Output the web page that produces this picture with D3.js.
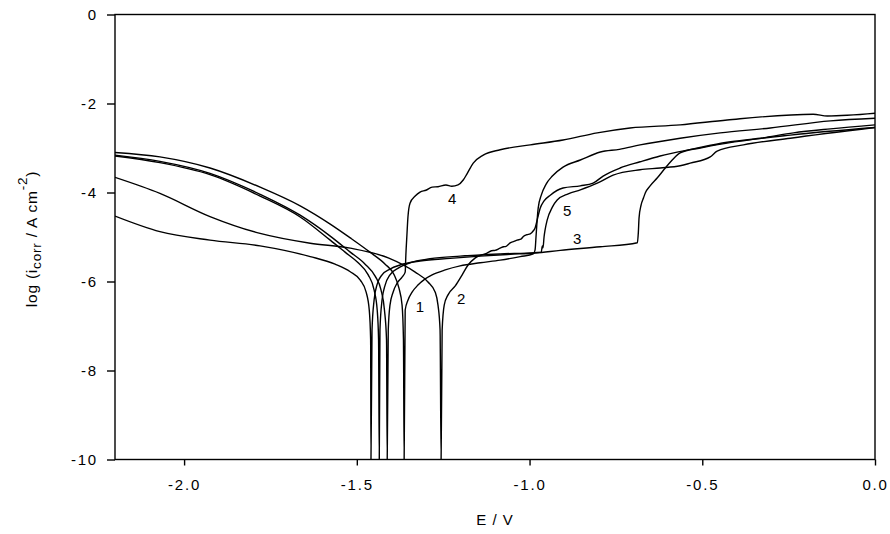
<!DOCTYPE html>
<html><head><meta charset="utf-8">
<script src="https://cdn.jsdelivr.net/npm/d3@7"></script>
<style>
body{margin:0;background:#fff}
svg{display:block}
text{font-family:"Liberation Sans",Arial,sans-serif;fill:#000}
</style>
</head><body><svg id="chart" width="890" height="534"></svg>
<script>
// ---- data (E / V, log i) ----
const xTicks = [-2.0, -1.5, -1.0, -0.5, 0.0];
const yTicks = [0, -2, -4, -6, -8, -10];

const curve1 = [[-2.200,-3.10],[-2.070,-3.20],[-1.925,-3.45],[-1.780,-3.88],[-1.664,-4.30],[-1.577,-4.71],[-1.519,-5.02],[-1.462,-5.34],[-1.418,-5.61],[-1.392,-5.85],[-1.378,-6.15],[-1.369,-6.53],[-1.365,-7.31],[-1.363,-10],
 [-1.360,-6.64],[-1.352,-6.42],[-1.340,-6.24],[-1.323,-6.08],[-1.302,-5.94],[-1.282,-5.85],[-1.244,-5.74],[-1.201,-5.65],[-1.143,-5.58],[-1.085,-5.52],[-1.027,-5.44],[-0.989,-5.38],[-0.984,-5.29],[-0.981,-4.96],[-0.978,-4.62],[-0.975,-4.35],[-0.966,-4.06],[-0.952,-3.81],[-0.934,-3.63],[-0.903,-3.43],[-0.853,-3.27],[-0.795,-3.09],[-0.740,-3.03],[-0.680,-2.93],[-0.564,-2.78],[-0.448,-2.66],[-0.303,-2.55],[-0.129,-2.39],[0.000,-2.33]];

const curve2 = [[-2.200,-3.66],[-2.070,-4.02],[-1.925,-4.54],[-1.780,-4.92],[-1.635,-5.14],[-1.519,-5.25],[-1.409,-5.47],[-1.331,-5.79],[-1.294,-6.01],[-1.273,-6.24],[-1.265,-6.53],[-1.259,-7.09],[-1.256,-10],
 [-1.253,-7.09],[-1.247,-6.53],[-1.236,-6.30],[-1.215,-6.10],[-1.195,-5.85],[-1.178,-5.63],[-1.157,-5.47],[-1.123,-5.36],[-1.110,-5.31],[-1.100,-5.30],[-1.085,-5.25],[-1.075,-5.22],[-1.068,-5.21],[-1.056,-5.13],[-1.045,-5.10],[-1.036,-5.07],[-1.025,-5.05],[-1.018,-4.99],[-1.008,-4.95],[-0.998,-4.93],[-0.989,-4.86],[-0.984,-4.80],[-0.978,-4.62],[-0.969,-4.35],[-0.958,-4.19],[-0.940,-4.06],[-0.903,-3.90],[-0.853,-3.85],[-0.816,-3.79],[-0.787,-3.63],[-0.738,-3.45],[-0.680,-3.31],[-0.622,-3.18],[-0.526,-3.02],[-0.428,-2.87],[-0.332,-2.78],[-0.236,-2.66],[-0.129,-2.57],[0.000,-2.48]];

const curve3 = [[-2.200,-4.53],[-2.070,-4.88],[-1.925,-5.07],[-1.780,-5.20],[-1.635,-5.44],[-1.563,-5.61],[-1.519,-5.78],[-1.490,-5.97],[-1.473,-6.24],[-1.464,-6.64],[-1.460,-7.31],[-1.459,-10],
 [-1.456,-7.09],[-1.450,-6.42],[-1.441,-6.06],[-1.427,-5.85],[-1.404,-5.72],[-1.375,-5.63],[-1.317,-5.54],[-1.230,-5.48],[-1.143,-5.43],[-1.056,-5.39],[-0.984,-5.36],[-0.911,-5.30],[-0.795,-5.22],[-0.688,-5.13],[-0.685,-4.89],[-0.683,-4.57],[-0.677,-4.28],[-0.670,-4.12],[-0.665,-4.01],[-0.651,-3.85],[-0.630,-3.67],[-0.607,-3.45],[-0.587,-3.27],[-0.564,-3.11],[-0.506,-3.00],[-0.428,-2.89],[-0.245,-2.71],[0.000,-2.54]];

const curve4 = [[-2.200,-3.16],[-2.070,-3.30],[-1.925,-3.57],[-1.780,-4.04],[-1.664,-4.51],[-1.577,-4.98],[-1.519,-5.34],[-1.476,-5.61],[-1.447,-5.88],[-1.430,-6.19],[-1.420,-6.64],[-1.414,-7.31],[-1.412,-10],
 [-1.409,-7.09],[-1.404,-6.53],[-1.395,-6.24],[-1.383,-6.03],[-1.369,-5.90],[-1.360,-5.79],[-1.358,-5.40],[-1.355,-4.96],[-1.352,-4.55],[-1.346,-4.24],[-1.331,-4.08],[-1.317,-3.99],[-1.300,-3.95],[-1.282,-3.88],[-1.265,-3.87],[-1.242,-3.83],[-1.225,-3.86],[-1.207,-3.83],[-1.192,-3.72],[-1.181,-3.58],[-1.163,-3.34],[-1.134,-3.16],[-1.085,-3.04],[-0.998,-2.93],[-0.903,-2.82],[-0.804,-2.66],[-0.709,-2.55],[-0.564,-2.48],[-0.428,-2.37],[-0.179,-2.24],[-0.138,-2.28],[0.000,-2.22]];

const curve5 = [[-2.200,-3.18],[-2.070,-3.33],[-1.925,-3.60],[-1.780,-4.08],[-1.664,-4.55],[-1.577,-5.07],[-1.534,-5.34],[-1.496,-5.58],[-1.467,-5.85],[-1.450,-6.19],[-1.441,-6.64],[-1.437,-7.31],[-1.435,-10],
 [-1.433,-7.09],[-1.427,-6.42],[-1.418,-6.08],[-1.404,-5.85],[-1.380,-5.70],[-1.346,-5.58],[-1.288,-5.49],[-1.201,-5.43],[-1.085,-5.38],[-0.984,-5.35],[-0.966,-5.34],[-0.963,-5.20],[-0.961,-5.24],[-0.958,-5.00],[-0.955,-4.84],[-0.949,-4.62],[-0.934,-4.33],[-0.920,-4.17],[-0.888,-4.03],[-0.853,-3.94],[-0.804,-3.79],[-0.758,-3.61],[-0.680,-3.49],[-0.622,-3.45],[-0.564,-3.40],[-0.535,-3.34],[-0.477,-3.20],[-0.457,-3.07],[-0.381,-2.93],[-0.245,-2.78],[0.000,-2.54]];

const curveNames = ["1", "2", "3", "4", "5"];
const labelE = [-1.317, -1.198, -0.862, -1.224, -0.891];
const labelLog = [-6.57, -6.39, -5.04, -4.15, -4.42];

// ---- layout ----
const svg = d3.select("#chart");
const L = 115, R = 875, T = 14.5, B = 459.5;
const x = d3.scaleLinear().domain([-2.2, 0]).range([L, R]);
const y = d3.scaleLinear().domain([0, -10]).range([T, B]);

svg.append("defs").append("clipPath").attr("id","clip")
  .append("rect").attr("x",L).attr("y",T).attr("width",R-L).attr("height",B-T);

const line = d3.line().x(d => x(d[0])).y(d => y(d[1])).curve(d3.curveMonotoneX);
const g = svg.append("g").attr("clip-path","url(#clip)");
[curve1, curve2, curve3, curve4, curve5].forEach(c => {
  g.append("path").attr("d", line(c)).attr("fill","none")
   .attr("stroke","#000").attr("stroke-width",1.4).attr("stroke-linejoin","round");
});

// frame
svg.append("rect").attr("x",L).attr("y",T).attr("width",R-L).attr("height",B-T)
  .attr("fill","none").attr("stroke","#000").attr("stroke-width",1.4);

// axes
const ax = svg.append("g").attr("transform",`translate(0,${B})`)
  .call(d3.axisBottom(x).tickValues(xTicks).tickSize(6).tickPadding(14).tickFormat(d => d.toFixed(1)));
const ay = svg.append("g").attr("transform",`translate(${L},0)`)
  .call(d3.axisLeft(y).tickValues(yTicks).tickSize(8).tickPadding(9).tickFormat(d => String(d)));
[ax, ay].forEach(a => {
  a.select(".domain").remove();
  a.selectAll(".tick line").attr("stroke","#000").attr("stroke-width",1.4);
  a.selectAll("text").attr("font-size",15).attr("letter-spacing","1.8px")
   .attr("font-family","'Liberation Sans', Arial, sans-serif").attr("fill","#000");
});

// curve labels
curveNames.forEach((n,i) => {
  svg.append("text").attr("x", x(labelE[i])).attr("y", y(labelLog[i]))
    .attr("text-anchor","middle").attr("dy","0.35em").attr("font-size",15).text(n);
});

// axis titles
svg.append("text").attr("x", 495).attr("y", 525).attr("text-anchor","middle")
  .attr("font-size",15).attr("letter-spacing","1px").text("E / V");

const yt = svg.append("text").attr("transform","translate(37,239) rotate(-90)")
  .attr("text-anchor","middle").attr("font-size",15.5).attr("letter-spacing","0.8px");
yt.append("tspan").text("log (i");
yt.append("tspan").attr("font-size",13.5).attr("dy",4).text("corr");
yt.append("tspan").attr("dy",-4).text(" / A cm");
yt.append("tspan").attr("font-size",13.5).attr("dy",-10).text("-2");
yt.append("tspan").attr("dy",10).text(")");
</script>
</body></html>
